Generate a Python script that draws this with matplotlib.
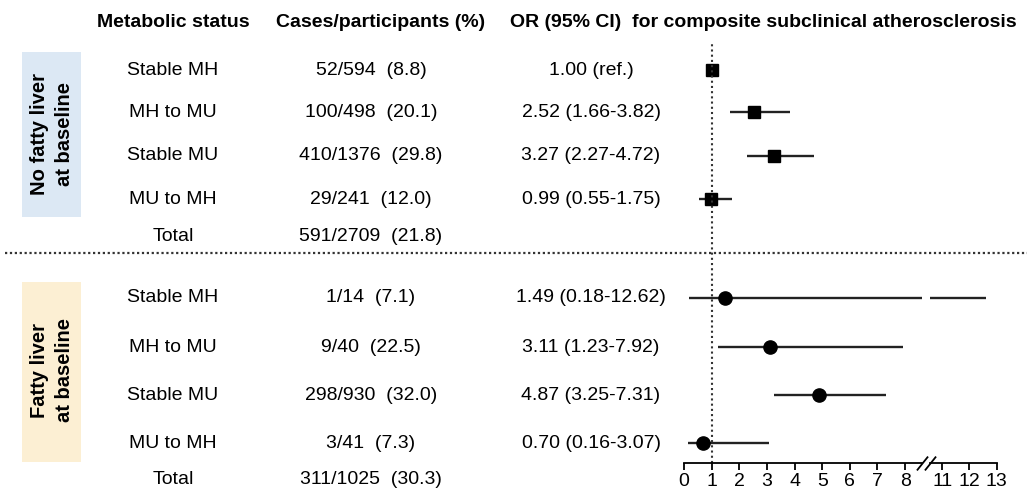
import numpy as np
import matplotlib
matplotlib.use("Agg")
import matplotlib.pyplot as plt
from matplotlib.patches import Rectangle

plt.rcParams['font.family'] = ['Liberation Sans', 'DejaVu Sans']

# data
status = ["Stable MH", "MH to MU", "Stable MU", "MU to MH"]
cases_nofl = ["52/594  (8.8)", "100/498  (20.1)", "410/1376  (29.8)", "29/241  (12.0)"]
total_nofl = "591/2709  (21.8)"
cases_fl = ["1/14  (7.1)", "9/40  (22.5)", "298/930  (32.0)", "3/41  (7.3)"]
total_fl = "311/1025  (30.3)"
or_nofl = [1.00, 2.52, 3.27, 0.99]
lo_nofl = [np.nan, 1.66, 2.27, 0.55]
hi_nofl = [np.nan, 3.82, 4.72, 1.75]
or_fl = [1.49, 3.11, 4.87, 0.70]
lo_fl = [0.18, 1.23, 3.25, 0.16]
hi_fl = [12.62, 7.92, 7.31, 3.07]
or_txt_nofl = ["1.00 (ref.)", "2.52 (1.66-3.82)", "3.27 (2.27-4.72)", "0.99 (0.55-1.75)"]
or_txt_fl = ["1.49 (0.18-12.62)", "3.11 (1.23-7.92)", "4.87 (3.25-7.31)", "0.70 (0.16-3.07)"]
ticks_left = [0, 1, 2, 3, 4, 5, 6, 7, 8]
ticks_right = [11, 12, 13]

# layout (pixel rows)
W, H = 1027, 491
rows_top = [70, 112, 156, 199]
rows_bot = [298, 347, 395, 443]
y_tot_top, y_tot_bot = 236, 480
x_stat, x_case, x_or = 173, 371, 591
fs = 14

fig = plt.figure(figsize=(W / 100, H / 100), dpi=100)
bg = fig.add_axes([0, 0, 1, 1])
bg.set_xlim(0, W)
bg.set_ylim(H, 0)
bg.axis('off')

# headers
bg.text(x_stat, 22, "Metabolic status", ha='center', va='center', fontsize=fs, fontweight='bold')
bg.text(381, 22, "Cases/participants (%)", ha='center', va='center', fontsize=fs, fontweight='bold')
bg.text(510, 22, "OR (95% CI)  for composite subclinical atherosclerosis", ha='left', va='center',
        fontsize=fs, fontweight='bold')

# group boxes
bg.add_patch(Rectangle((22, 52), 59, 165, facecolor='#dce8f4', edgecolor='none'))
bg.add_patch(Rectangle((22, 282), 59, 180, facecolor='#fcefd3', edgecolor='none'))
bg.text(52, 134, "No fatty liver\nat baseline", rotation=90, ha='center', va='center',
        fontsize=14.5, fontweight='bold', linespacing=1.4)
bg.text(52, 370, "Fatty liver\nat baseline", rotation=90, ha='center', va='center',
        fontsize=14.5, fontweight='bold', linespacing=1.4)

# separator
bg.plot([5, W], [253, 253], color='#333333', lw=1.6, ls=(0, (1, 1.2)))

for rows, cases, txts, tot, yt in [(rows_top, cases_nofl, or_txt_nofl, total_nofl, y_tot_top),
                                   (rows_bot, cases_fl, or_txt_fl, total_fl, y_tot_bot)]:
    for y, s, c, t in zip(rows, status, cases, txts):
        bg.text(x_stat, y, s, ha='center', va='center', fontsize=fs)
        bg.text(x_case, y, c, ha='center', va='center', fontsize=fs)
        bg.text(x_or, y, t, ha='center', va='center', fontsize=fs)
    bg.text(x_stat, yt, "Total", ha='center', va='center', fontsize=fs)
    bg.text(x_case, yt, tot, ha='center', va='center', fontsize=fs)

# forest axes with a break between 8 and 11
y_axis, y_top = 463, 40
bottom = (H - y_axis) / H
height = (y_axis - y_top) / H
ax1 = fig.add_axes([684 / W, bottom, (922 - 684) / W, height])
ax2 = fig.add_axes([930 / W, bottom, (996.7 - 930) / W, height])
ax1.set_xlim(0, 8.61)
ax2.set_xlim(10.55, 13.0)

for ax in (ax1, ax2):
    ax.set_ylim(y_axis, y_top)
    ax.patch.set_alpha(0)
    for sp in ('top', 'left', 'right'):
        ax.spines[sp].set_visible(False)
    ax.spines['bottom'].set_linewidth(1.3)
    ax.set_yticks([])
    ax.tick_params(axis='x', direction='out', length=5, width=1.3, labelsize=fs, pad=2)
    ax.hlines(rows_top, lo_nofl, hi_nofl, color='#222222', lw=1.7)
    ax.plot(or_nofl, rows_top, 's', color='black', ms=9, clip_on=False if ax is ax1 else True)
    ax.hlines(rows_bot, lo_fl, hi_fl, color='#222222', lw=1.7)
    ax.plot(or_fl, rows_bot, 'o', color='black', ms=9.5)
ax1.set_xticks(ticks_left)
ax2.set_xticks(ticks_right)
ax1.axvline(1, ymin=0, ymax=(y_axis - 43) / (y_axis - y_top), color='#333333', lw=1.5, ls=(0, (1, 1.5)))

# break marks
kw = dict(marker=[(-0.8, -1), (0.8, 1)], markersize=10, linestyle='none', color='black', mew=1.3, clip_on=False)
ax1.plot([1.0], [0], transform=ax1.transAxes, **kw)
ax2.plot([0.0], [0], transform=ax2.transAxes, **kw)

fig.savefig("out.png", dpi=100)
